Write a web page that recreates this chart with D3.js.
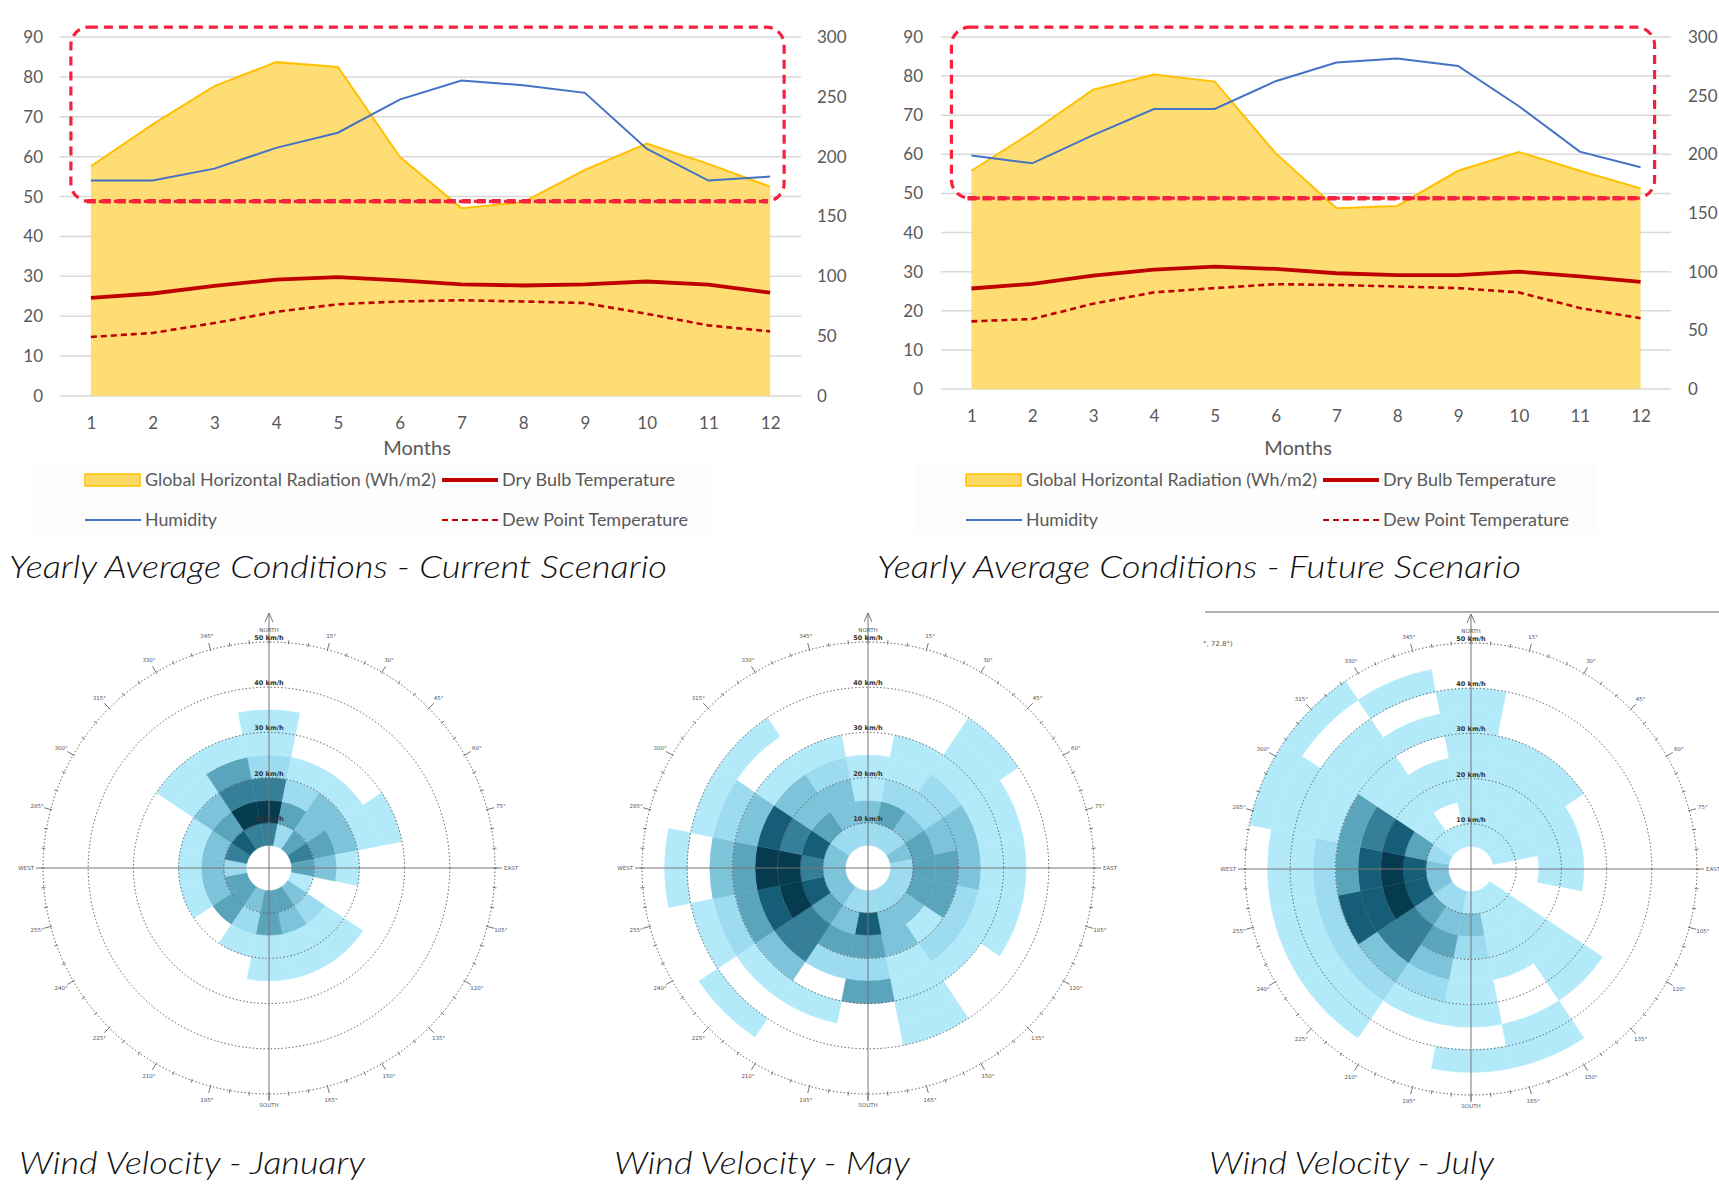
<!DOCTYPE html>
<html>
<head>
<meta charset="utf-8">
<script src="https://cdn.jsdelivr.net/npm/d3@7"></script>
<style>
  html, body { margin: 0; padding: 0; background: #fff; overflow: hidden; }
  svg { display: block; }
</style>
</head>
<body>
<svg id="fig" width="1719" height="1186"></svg>
<script>
// ---- climate charts data ----
const months = [1, 2, 3, 4, 5, 6, 7, 8, 9, 10, 11, 12];
const leftTicks = [0, 10, 20, 30, 40, 50, 60, 70, 80, 90];
const rightTicks = [0, 50, 100, 150, 200, 250, 300];

const curRadiation = [192, 227, 259, 279, 275, 200, 157, 162, 189, 211, 194, 175];
const curHumidity  = [54, 54, 57, 62.2, 66, 74.3, 79.1, 77.9, 76, 62, 54, 55];
const curDryBulb   = [24.6, 25.7, 27.6, 29.2, 29.8, 29.0, 28.0, 27.7, 28.0, 28.7, 27.9, 25.9];
const curDewPoint  = [14.8, 15.8, 18.3, 21.1, 23.0, 23.7, 24.0, 23.7, 23.3, 20.6, 17.7, 16.2];

const futRadiation = [186, 219, 255, 268, 262, 201, 154, 156, 186, 202, 186, 171];
const futHumidity  = [59.7, 57.7, 64.9, 71.6, 71.6, 78.7, 83.5, 84.5, 82.6, 72.3, 60.7, 56.7];
const futDryBulb   = [25.7, 26.9, 29.0, 30.5, 31.3, 30.7, 29.6, 29.1, 29.1, 30.0, 28.8, 27.4];
const futDewPoint  = [17.3, 17.9, 21.8, 24.7, 25.8, 26.8, 26.6, 26.2, 25.8, 24.7, 20.7, 18.1];

const legendNames = ["Global Horizontal Radiation (Wh/m2)", "Dry Bulb Temperature", "Humidity", "Dew Point Temperature"];

// ---- wind rose data ----
// 16 sectors clockwise from north; each list = shade level per 5 km/h bin starting at 5-10 km/h (0 = empty)
const sectors = ["N","NNE","NE","ENE","E","ESE","SE","SSE","S","SSW","SW","WSW","W","WNW","NW","NNW"];
const calmSpeed = 5;
const binWidth = 5;
const ringSpeeds = [10, 20, 30, 40, 50];

const roseJanuary = [
  [5,7,5,2,1,1],
  [2,4,2,1],
  [4,3,3,1],
  [5,4,3,1,1],
  [4,3,1],
  [1],
  [3,2,1,1],
  [4,3,1,1],
  [4,4,1,1],
  [3,2,1],
  [4,4],
  [4,3,1],
  [2,3,1],
  [5,3,1],
  [6,4,3,1,1],
  [5,7,5,4,1]
];
const roseMay = [
  [2,3,1,1],
  [2,4,2,1,1],
  [2,3,2,2,1,1,1],
  [3,4,3,3,1,1],
  [2,4,4,3,1,1],
  [2,4,4,2,1,1],
  [2,3,1,2,1],
  [2,3,3,1,1,1,1],
  [2,6,4,2,4],
  [2,3,4,2,0,1],
  [3,4,5,5,3,1,0,1],
  [3,6,7,6,4,2,1],
  [3,5,7,7,4,3,0,1],
  [3,6,5,6,3,2,1],
  [2,4,3,3,1,0,1],
  [2,3,3,2,1]
];
const roseJuly = [
  [1,1,1,1,1,1,1],
  [1,1,1,1,1],
  [1,1,1,1,1],
  [1,1,1,1],
  [0,0,1,1],
  [],
  [1,1,1,1,1,1],
  [1,1,1,1,0,0,1,1],
  [1,3,2,1,1,1,0,1],
  [2,3,4,3,2,1],
  [2,4,5,5,3,2,1,1],
  [3,6,7,6,6,2,1,1],
  [3,6,7,6,4,2,1,1],
  [2,4,6,5,4,1,1,1,1],
  [1,1,1,1,1,1,1,0,1],
  [1,0,1,1,0,1,0,1]
];
const shadeColors = ["#b3eafa", "#9cdbf0", "#7dc3da", "#5aa4bc", "#357f99", "#165e78", "#053a4f"];

const svg = d3.select("#fig");
const greyText = "#595959";
const labelFont = "Lato, 'Open Sans', sans-serif";

function drawClimate(cfg) {
  const g = svg.append("g");

  const x = d3.scalePoint().domain(months).range([cfg.x0, cfg.x1]).padding(0.5);
  const yL = d3.scaleLinear().domain([0, 90]).range([cfg.yBottom, cfg.yTop]);
  const yR = d3.scaleLinear().domain([0, 300]).range([cfg.yBottom, cfg.yTop]);

  // gridlines
  g.append("g").selectAll("line").data(leftTicks).join("line")
    .attr("x1", cfg.x0).attr("x2", cfg.x1)
    .attr("y1", d => yL(d)).attr("y2", d => yL(d))
    .attr("stroke", "#d9d9d9").attr("stroke-width", 1.5);

  // radiation area
  const area = d3.area().x((d, i) => x(months[i])).y0(yR(0)).y1(d => yR(d));
  g.append("path").datum(cfg.radiation).attr("d", area)
    .attr("fill", "#ffd966").attr("fill-opacity", 0.9);
  g.append("path").datum(cfg.radiation)
    .attr("d", d3.line().x((d, i) => x(months[i])).y(d => yR(d)))
    .attr("fill", "none").attr("stroke", "#ffc000").attr("stroke-width", 2);

  const lineL = d3.line().x((d, i) => x(months[i])).y(d => yL(d));
  g.append("path").datum(cfg.dewPoint).attr("d", lineL)
    .attr("fill", "none").attr("stroke", "#c00000").attr("stroke-width", 2.6)
    .attr("stroke-dasharray", "6,4");
  g.append("path").datum(cfg.dryBulb).attr("d", lineL)
    .attr("fill", "none").attr("stroke", "#c00000").attr("stroke-width", 3.8);
  g.append("path").datum(cfg.humidity).attr("d", lineL)
    .attr("fill", "none").attr("stroke", "#4472c4").attr("stroke-width", 2);

  // axes
  const styleAxis = sel => {
    sel.select(".domain").remove();
    sel.selectAll("text").attr("fill", greyText).attr("font-size", 17).attr("font-family", labelFont);
  };
  g.append("g").attr("transform", `translate(${cfg.x0},0)`)
    .call(d3.axisLeft(yL).tickValues(leftTicks).tickSize(0).tickPadding(cfg.padL))
    .call(styleAxis);
  g.append("g").attr("transform", `translate(${cfg.x1},0)`)
    .call(d3.axisRight(yR).tickValues(rightTicks).tickSize(0).tickPadding(cfg.padR))
    .call(styleAxis);
  g.append("g").attr("transform", `translate(0,${cfg.yBottom})`)
    .call(d3.axisBottom(x).tickSize(0).tickPadding(cfg.padB))
    .call(styleAxis);

  g.append("text").attr("x", cfg.x0 + 357).attr("y", 455)
    .attr("text-anchor", "middle").attr("fill", greyText)
    .attr("font-family", labelFont).attr("font-size", 20).text("Months");

  // highlight box
  const bx0 = x(1) - 20, bx1 = x(12) + 14;
  const by0 = yL(92.5), by1 = yL(48.8);
  g.append("rect").attr("x", bx0).attr("y", by0)
    .attr("width", bx1 - bx0).attr("height", by1 - by0)
    .attr("rx", 18).attr("ry", 18)
    .attr("fill", "none").attr("stroke", "#f5213f").attr("stroke-width", 3.2)
    .attr("stroke-dasharray", "9,6");
  g.append("line").attr("x1", bx0 + 16).attr("x2", bx1 - 16).attr("y1", by1).attr("y2", by1)
    .attr("stroke", "#f5213f").attr("stroke-width", 4.5).attr("stroke-dasharray", "9,6");

  // legend
  const lg = g.append("g").attr("transform", `translate(${cfg.x0},0)`);
  lg.append("rect").attr("x", -25).attr("y", 463).attr("width", 680).attr("height", 72).attr("fill", "#fdfdfd");
  lg.append("rect").attr("x", 25).attr("y", 474).attr("width", 55).attr("height", 12)
    .attr("fill", "#ffd966").attr("stroke", "#ffc000").attr("stroke-width", 1.5);
  lg.append("line").attr("x1", 382).attr("x2", 438).attr("y1", 480).attr("y2", 480)
    .attr("stroke", "#c00000").attr("stroke-width", 4);
  lg.append("line").attr("x1", 25).attr("x2", 81).attr("y1", 520).attr("y2", 520)
    .attr("stroke", "#4472c4").attr("stroke-width", 2);
  lg.append("line").attr("x1", 382).attr("x2", 438).attr("y1", 520).attr("y2", 520)
    .attr("stroke", "#c00000").attr("stroke-width", 2.2).attr("stroke-dasharray", "6,4");
  const legendPos = [[85, 486, 291], [442, 486, 173], [85, 526, 72], [442, 526, 186]];
  lg.selectAll("text.leg").data(legendNames).join("text")
    .attr("class", "leg")
    .attr("x", (d, i) => legendPos[i][0]).attr("y", (d, i) => legendPos[i][1])
    .attr("textLength", (d, i) => legendPos[i][2]).attr("lengthAdjust", "spacingAndGlyphs")
    .attr("fill", greyText).attr("font-family", labelFont).attr("font-size", 17)
    .text(d => d);

  svg.append("text").attr("x", cfg.titleX).attr("y", 578)
    .attr("font-family", "Lato, 'Open Sans', sans-serif").attr("font-style", "italic")
    .attr("font-weight", 300).attr("font-size", 31).attr("fill", "#111")
    .attr("textLength", cfg.titleW).attr("lengthAdjust", "spacingAndGlyphs")
    .text(cfg.title);
}

drawClimate({
  x0: 60, x1: 801, yTop: 37, yBottom: 396, padL: 17, padR: 16, padB: 21,
  radiation: curRadiation, humidity: curHumidity, dryBulb: curDryBulb, dewPoint: curDewPoint,
  title: "Yearly Average Conditions - Current Scenario", titleX: 9, titleW: 658
});
drawClimate({
  x0: 941, x1: 1671, yTop: 37, yBottom: 389, padL: 18, padR: 17, padB: 21,
  radiation: futRadiation, humidity: futHumidity, dryBulb: futDryBulb, dewPoint: futDewPoint,
  title: "Yearly Average Conditions - Future Scenario", titleX: 877, titleW: 644
});

function drawRose(cfg) {
  const g = svg.append("g").attr("transform", `translate(${cfg.cx},${cfg.cy})`);
  const r = d3.scaleLinear().domain([0, 50]).range([0, 226]);
  const step = 2 * Math.PI / sectors.length;

  const cells = [];
  cfg.levels.forEach((bins, i) => bins.forEach((lv, k) => {
    if (lv > 0) cells.push({ i, k, lv });
  }));
  const arc = d3.arc()
    .innerRadius(d => r(calmSpeed + d.k * binWidth))
    .outerRadius(d => r(calmSpeed + (d.k + 1) * binWidth))
    .startAngle(d => d.i * step - step / 2)
    .endAngle(d => d.i * step + step / 2);
  g.append("g").selectAll("path").data(cells).join("path")
    .attr("d", arc)
    .attr("fill", d => shadeColors[d.lv - 1])
    .attr("stroke", d => shadeColors[d.lv - 1]).attr("stroke-width", 0.4);

  // dotted speed rings
  g.append("g").selectAll("circle").data(ringSpeeds).join("circle")
    .attr("r", d => r(d)).attr("fill", "none")
    .attr("stroke", "#555").attr("stroke-width", 1).attr("stroke-dasharray", "1.4,2.2");

  // degree ticks on outer ring
  const deg = d3.range(0, 360, 5);
  g.append("g").selectAll("line").data(deg).join("line")
    .attr("x1", d => Math.sin(d * Math.PI / 180) * (r(50) - 1.5))
    .attr("y1", d => -Math.cos(d * Math.PI / 180) * (r(50) - 1.5))
    .attr("x2", d => Math.sin(d * Math.PI / 180) * (r(50) + (d % 15 === 0 ? 7 : 2.5)))
    .attr("y2", d => -Math.cos(d * Math.PI / 180) * (r(50) + (d % 15 === 0 ? 7 : 2.5)))
    .attr("stroke", "#666").attr("stroke-width", 0.9);

  const degLabels = d3.range(15, 360, 15).filter(d => d % 90 !== 0);
  g.append("g").selectAll("text").data(degLabels).join("text")
    .attr("x", d => Math.sin(d * Math.PI / 180) * (r(50) + 14))
    .attr("y", d => -Math.cos(d * Math.PI / 180) * (r(50) + 14))
    .attr("text-anchor", "middle").attr("dominant-baseline", "central")
    .attr("font-family", "'DejaVu Sans', sans-serif").attr("font-size", 5.5).attr("fill", "#555")
    .text(d => d + "\u00b0");

  // axes
  g.append("line").attr("x1", -r(50) - 2).attr("x2", r(50) + 2).attr("y1", 0).attr("y2", 0)
    .attr("stroke", "#777").attr("stroke-width", 1);
  g.append("line").attr("x1", 0).attr("x2", 0).attr("y1", r(50) + 6).attr("y2", -r(50) - 29)
    .attr("stroke", "#777").attr("stroke-width", 1);
  g.append("path").attr("d", `M-4,${-r(50) - 20}L0,${-r(50) - 29}L4,${-r(50) - 20}`)
    .attr("fill", "none").attr("stroke", "#777").attr("stroke-width", 1);

  g.append("g").selectAll("text").data(ringSpeeds).join("text")
    .attr("x", 0).attr("y", d => -r(d) - 2)
    .attr("text-anchor", "middle")
    .attr("font-family", "'DejaVu Sans', sans-serif").attr("font-size", 6.5).attr("font-weight", "bold")
    .attr("fill", "#333").text(d => d + " km/h");

  const cardinals = [
    { t: "NORTH", x: 0, y: -r(50) - 10, a: "middle" },
    { t: "EAST", x: r(50) + 9, y: 2, a: "start" },
    { t: "SOUTH", x: 0, y: r(50) + 13, a: "middle" },
    { t: "WEST", x: -r(50) - 9, y: 2, a: "end" }
  ];
  g.append("g").selectAll("text").data(cardinals).join("text")
    .attr("x", d => d.x).attr("y", d => d.y).attr("text-anchor", d => d.a)
    .attr("font-family", "'DejaVu Sans', sans-serif").attr("font-size", 5.5).attr("fill", "#555")
    .text(d => d.t);

  svg.append("text").attr("x", cfg.titleX).attr("y", 1174)
    .attr("font-family", "Lato, 'Open Sans', sans-serif").attr("font-style", "italic")
    .attr("font-weight", 300).attr("font-size", 31).attr("fill", "#111")
    .attr("textLength", cfg.titleW).attr("lengthAdjust", "spacingAndGlyphs")
    .text(cfg.title);
}

// leftover edge of a neighbouring panel in the July picture
svg.append("line").attr("x1", 1205).attr("x2", 1719).attr("y1", 612).attr("y2", 612)
  .attr("stroke", "#999").attr("stroke-width", 1.5);
svg.append("text").attr("x", 1203).attr("y", 646)
  .attr("font-family", "'DejaVu Sans', sans-serif").attr("font-size", 7).attr("fill", "#555")
  .text("\u00b0, 72.8\u00b0)");

drawRose({ cx: 269, cy: 868, levels: roseJanuary, title: "Wind Velocity - January", titleX: 19, titleW: 346 });
drawRose({ cx: 868, cy: 868, levels: roseMay, title: "Wind Velocity - May", titleX: 614, titleW: 296 });
drawRose({ cx: 1471, cy: 869, levels: roseJuly, title: "Wind Velocity - July", titleX: 1209, titleW: 285 });
</script>
</body>
</html>
